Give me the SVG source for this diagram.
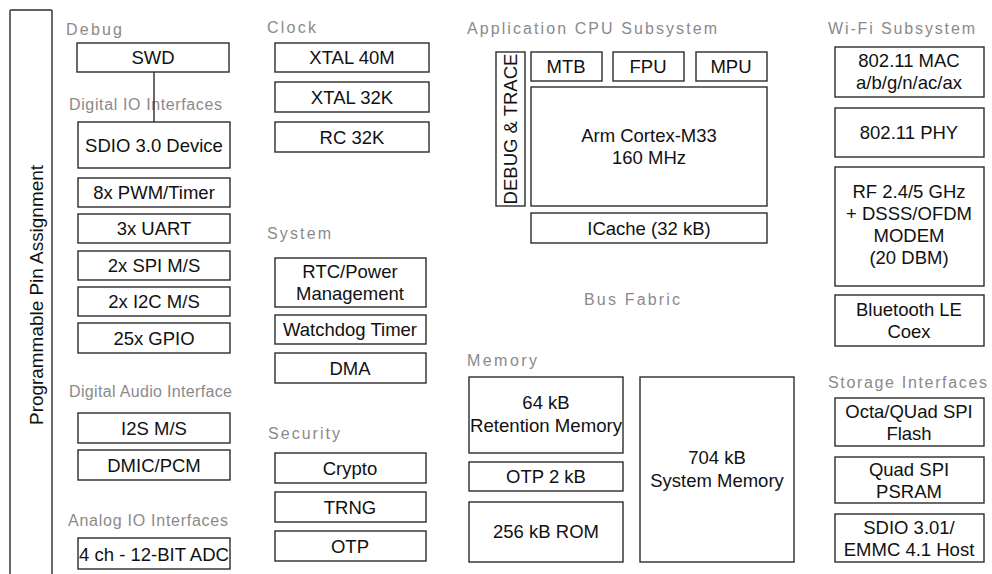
<svg xmlns="http://www.w3.org/2000/svg" width="992" height="574" viewBox="0 0 992 574">
<style>
.b{fill:#fff;stroke:#2b2b2b;stroke-width:1.4}
.t{font-family:"Liberation Sans",Arial,sans-serif;font-size:18.5px;fill:#111;text-anchor:middle}
.l{font-family:"Liberation Sans",Arial,sans-serif;font-size:16px;fill:#8a8a8a}
.c{stroke:#2b2b2b;stroke-width:1.4;fill:none}
</style>
<rect width="992" height="574" fill="#fff"/>
<g id="pin-assignment">
<rect class="b" x="10" y="10" width="42" height="580" rx="1"/>
<text class="t" transform="translate(43,295) rotate(-90)" font-size="24" textLength="260" lengthAdjust="spacingAndGlyphs">Programmable Pin Assignment</text>
</g>
<g id="labels">
<text class="l" x="66" y="35" textLength="56" lengthAdjust="spacing">Debug</text>
<text class="l" x="69" y="110" font-size="15" textLength="153" lengthAdjust="spacing">Digital IO Interfaces</text>
<text class="l" x="69" y="397" font-size="15" textLength="163" lengthAdjust="spacing">Digital Audio Interface</text>
<text class="l" x="68" y="526" textLength="160" lengthAdjust="spacing">Analog IO Interfaces</text>
<text class="l" x="267" y="33" textLength="49" lengthAdjust="spacing">Clock</text>
<text class="l" x="267" y="239" textLength="64" lengthAdjust="spacing">System</text>
<text class="l" x="268" y="439" textLength="72" lengthAdjust="spacing">Security</text>
<text class="l" x="467" y="34" textLength="250" lengthAdjust="spacing">Application CPU Subsystem</text>
<text class="l" x="584" y="305" textLength="96" lengthAdjust="spacing">Bus Fabric</text>
<text class="l" x="467" y="366" textLength="70" lengthAdjust="spacing">Memory</text>
<text class="l" x="828" y="34" textLength="147" lengthAdjust="spacing">Wi-Fi Subsystem</text>
<text class="l" x="828" y="388" textLength="159" lengthAdjust="spacing">Storage Interfaces</text>
</g>
<g id="connectors">
<line class="c" x1="154" y1="72" x2="154" y2="122"/>
</g>
<g id="swd"><rect class="b" x="77" y="43" width="152" height="29"/><text class="t" x="153" y="64">SWD</text></g>
<g id="sdio-device"><rect class="b" x="78" y="122" width="152" height="46"/><text class="t" x="154" y="152">SDIO 3.0 Device</text></g>
<g id="pwm"><rect class="b" x="78" y="178" width="152" height="29"/><text class="t" x="154" y="199">8x PWM/Timer</text></g>
<g id="uart"><rect class="b" x="78" y="214" width="152" height="29"/><text class="t" x="154" y="235">3x UART</text></g>
<g id="spi"><rect class="b" x="78" y="251" width="152" height="29"/><text class="t" x="154" y="272">2x SPI M/S</text></g>
<g id="i2c"><rect class="b" x="78" y="287" width="152" height="29"/><text class="t" x="154" y="308">2x I2C M/S</text></g>
<g id="gpio"><rect class="b" x="78" y="323" width="152" height="30"/><text class="t" x="154" y="345">25x GPIO</text></g>
<g id="i2s"><rect class="b" x="78" y="413" width="152" height="30"/><text class="t" x="154" y="435">I2S M/S</text></g>
<g id="dmic"><rect class="b" x="78" y="450" width="152" height="30"/><text class="t" x="154" y="472">DMIC/PCM</text></g>
<g id="adc"><rect class="b" x="78" y="538" width="152" height="31"/><text class="t" x="154" y="561" textLength="150" lengthAdjust="spacingAndGlyphs">4 ch - 12-BIT ADC</text></g>

<g id="xtal40"><rect class="b" x="275" y="43" width="154" height="29"/><text class="t" x="352" y="64">XTAL 40M</text></g>
<g id="xtal32"><rect class="b" x="275" y="82" width="154" height="30"/><text class="t" x="352" y="104">XTAL 32K</text></g>
<g id="rc32"><rect class="b" x="275" y="122" width="154" height="30"/><text class="t" x="352" y="144">RC 32K</text></g>
<g id="rtc"><rect class="b" x="275" y="258" width="151" height="49"/><text class="t" x="350" y="278">RTC/Power</text><text class="t" x="350" y="300">Management</text></g>
<g id="watchdog"><rect class="b" x="275" y="315" width="151" height="29"/><text class="t" x="350" y="336">Watchdog Timer</text></g>
<g id="dma"><rect class="b" x="275" y="353" width="151" height="30"/><text class="t" x="350" y="375">DMA</text></g>
<g id="crypto"><rect class="b" x="275" y="453" width="151" height="30"/><text class="t" x="350" y="475">Crypto</text></g>
<g id="trng"><rect class="b" x="275" y="492" width="151" height="30"/><text class="t" x="350" y="514">TRNG</text></g>
<g id="otp"><rect class="b" x="275" y="531" width="151" height="30"/><text class="t" x="350" y="553">OTP</text></g>

<g id="debug-trace"><rect class="b" x="496" y="52" width="29" height="154"/><text class="t" transform="translate(517,129) rotate(-90)">DEBUG &amp; TRACE</text></g>
<g id="mtb"><rect class="b" x="531" y="52" width="71" height="29"/><text class="t" x="566" y="73">MTB</text></g>
<g id="fpu"><rect class="b" x="613" y="52" width="71" height="29"/><text class="t" x="648" y="73">FPU</text></g>
<g id="mpu"><rect class="b" x="696" y="52" width="71" height="29"/><text class="t" x="731" y="73">MPU</text></g>
<g id="cortex"><rect class="b" x="531" y="87" width="236" height="119"/><text class="t" x="649" y="142">Arm Cortex-M33</text><text class="t" x="649" y="164">160 MHz</text></g>
<g id="icache"><rect class="b" x="531" y="213" width="236" height="30"/><text class="t" x="649" y="235">ICache (32 kB)</text></g>

<g id="retention"><rect class="b" x="469" y="377" width="154" height="76"/><text class="t" x="546" y="409">64 kB</text><text class="t" x="546" y="432" textLength="152" lengthAdjust="spacingAndGlyphs">Retention Memory</text></g>
<g id="otp2"><rect class="b" x="469" y="462" width="154" height="29"/><text class="t" x="546" y="483">OTP 2 kB</text></g>
<g id="rom"><rect class="b" x="469" y="502" width="154" height="60"/><text class="t" x="546" y="538">256 kB ROM</text></g>
<g id="sysmem"><rect class="b" x="640" y="377" width="154" height="185"/><text class="t" x="717" y="464">704 kB</text><text class="t" x="717" y="487">System Memory</text></g>

<g id="mac"><rect class="b" x="835" y="47" width="149" height="50"/><text class="t" x="909" y="67">802.11 MAC</text><text class="t" x="909" y="89">a/b/g/n/ac/ax</text></g>
<g id="phy"><rect class="b" x="835" y="108" width="149" height="49"/><text class="t" x="909" y="139">802.11 PHY</text></g>
<g id="rf"><rect class="b" x="835" y="167" width="149" height="119"/><text class="t" x="909" y="198">RF 2.4/5 GHz</text><text class="t" x="909" y="220">+ DSSS/OFDM</text><text class="t" x="909" y="242">MODEM</text><text class="t" x="909" y="264">(20 DBM)</text></g>
<g id="ble"><rect class="b" x="835" y="295" width="149" height="51"/><text class="t" x="909" y="316">Bluetooth LE</text><text class="t" x="909" y="338">Coex</text></g>
<g id="octa"><rect class="b" x="835" y="398" width="149" height="48"/><text class="t" x="909" y="418">Octa/QUad SPI</text><text class="t" x="909" y="440">Flash</text></g>
<g id="psram"><rect class="b" x="835" y="457" width="149" height="46"/><text class="t" x="909" y="476">Quad SPI</text><text class="t" x="909" y="498">PSRAM</text></g>
<g id="sdio-host"><rect class="b" x="835" y="514" width="149" height="48"/><text class="t" x="909" y="534">SDIO 3.01/</text><text class="t" x="909" y="556">EMMC 4.1 Host</text></g>
</svg>
